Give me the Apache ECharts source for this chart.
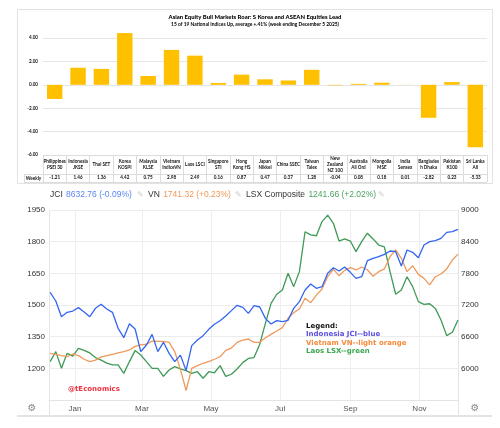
<!DOCTYPE html>
<html>
<head>
<meta charset="utf-8">
<script src="https://cdn.jsdelivr.net/npm/echarts@6/dist/echarts.min.js"></script>
<style>
  html, body { margin: 0; padding: 0; background: #fff; }
  #chart { width: 500px; height: 428px; }
</style>
</head>
<body>
<div id="chart"></div>
<script>
// top panel: weekly % change by national index
const indexNames = [
  "Philippines\nPSEi 30", "Indonesia\nJKSE", "Thai SET", "Korea\nKOSPI", "Malaysia\nKLSE",
  "Vietnam\nIndiceVN", "Laos LSCI", "Singapore\nSTI", "Hong\nKong HS", "Japan\nNikkei",
  "China SSEC", "Taiwan\nTaiex", "New\nZealand\nNZ 100", "Australia\nAll Ord", "Mongolia\nMSE",
  "India\nSensex", "Banglades\nh Dhaka", "Pakistan\nK100", "Sri Lanka\nAll"
];
const weeklyChange = [-1.21, 1.46, 1.36, 4.42, 0.75, 2.98, 2.49, 0.16, 0.87, 0.47,
  0.37, 1.28, -0.04, 0.08, 0.18, 0.01, -2.82, 0.23, -5.33];

// bottom panel: index levels, sampled every 5 days
const lineDates = [
  "2024-12-10", "2024-12-15", "2024-12-20", "2024-12-25", "2024-12-30",
  "2025-01-04", "2025-01-09", "2025-01-14", "2025-01-19", "2025-01-24", "2025-01-29",
  "2025-02-03", "2025-02-08", "2025-02-13", "2025-02-18", "2025-02-23", "2025-02-28",
  "2025-03-05", "2025-03-10", "2025-03-15", "2025-03-20", "2025-03-25", "2025-03-30",
  "2025-04-04", "2025-04-09", "2025-04-14", "2025-04-19", "2025-04-24", "2025-04-29",
  "2025-05-04", "2025-05-09", "2025-05-14", "2025-05-19", "2025-05-24", "2025-05-29",
  "2025-06-03", "2025-06-08", "2025-06-13", "2025-06-18", "2025-06-23", "2025-06-28",
  "2025-07-03", "2025-07-08", "2025-07-13", "2025-07-18", "2025-07-23", "2025-07-28",
  "2025-08-02", "2025-08-07", "2025-08-12", "2025-08-17", "2025-08-22", "2025-08-27",
  "2025-09-01", "2025-09-06", "2025-09-11", "2025-09-16", "2025-09-21", "2025-09-26",
  "2025-10-01", "2025-10-06", "2025-10-11", "2025-10-16", "2025-10-21", "2025-10-26", "2025-10-31",
  "2025-11-05", "2025-11-10", "2025-11-15", "2025-11-20", "2025-11-25", "2025-11-30",
  "2025-12-05"
];
const jciValues = [7440, 7276, 6979, 7061, 7086, 7150, 7067, 6979, 7137, 7213,
  7124, 7061, 6758, 6581, 6846, 6745, 6316, 6442, 6644, 6316,
  6493, 6284, 6126, 6250, 5960, 6430, 6537, 6619, 6739, 6834,
  6903, 6992, 7093, 7194, 7156, 7042, 7187, 7162, 6947, 6840,
  6903, 6884, 6910, 7137, 7263, 7484, 7598, 7516, 7547, 7800,
  7907, 7844, 7920, 7819, 7705, 7737, 8040, 8084, 8116, 8160,
  8223, 8210, 7939, 8242, 8198, 8097, 8337, 8400, 8419, 8463,
  8577, 8590, 8633];
const vnValues = [1271, 1266, 1260, 1255, 1268, 1260, 1243, 1232, 1239, 1254,
  1260, 1266, 1273, 1279, 1287, 1304, 1311, 1314, 1329, 1328,
  1328, 1323, 1279, 1195, 1095, 1200, 1213, 1224, 1232, 1243,
  1255, 1285, 1296, 1323, 1334, 1339, 1323, 1323, 1345, 1361,
  1377, 1393, 1437, 1464, 1481, 1532, 1511, 1547, 1576, 1634,
  1669, 1639, 1664, 1677, 1666, 1680, 1667, 1636, 1658, 1671,
  1729, 1761, 1721, 1658, 1686, 1645, 1626, 1595, 1634, 1647,
  1671, 1713, 1741];
const lsxValues = [1232, 1279, 1200, 1271, 1258, 1295, 1285, 1273, 1251, 1239,
  1225, 1216, 1216, 1176, 1232, 1284, 1263, 1232, 1200, 1200,
  1162, 1192, 1208, 1197, 1189, 1176, 1184, 1153, 1184, 1179,
  1213, 1162, 1172, 1197, 1227, 1247, 1251, 1314, 1413, 1508,
  1551, 1571, 1650, 1587, 1658, 1847, 1832, 1828, 1895, 1926,
  1887, 1803, 1813, 1803, 1753, 1800, 1840, 1813, 1784, 1775,
  1658, 1551, 1571, 1634, 1587, 1516, 1503, 1506, 1484, 1429,
  1355, 1371, 1429];
const monthTicks = ["2025-01-01", "2025-03-01", "2025-05-01", "2025-07-01", "2025-09-01", "2025-11-01"];
const monthNames = ["Jan", "Feb", "Mar", "Apr", "May", "Jun", "Jul", "Aug", "Sep", "Oct", "Nov", "Dec"];

const topFont = "Lato";
const lineFont = "Liberation Sans";
const gridGrey = "#dcdcdc";

const chart = echarts.init(document.getElementById("chart"));

// x positions are UTC timestamps on a plain value axis so month ticks can be pinned
const toPairs = (vals) => lineDates.map((d, i) => [Date.parse(d), vals[i]]);
const monthStamps = monthTicks.map(d => Date.parse(d));

const option = {
  animation: false,
  backgroundColor: "#fff",
  grid: [
    { left: 43, top: 38, width: 444, height: 117 },
    { left: 49, top: 210, width: 409, height: 190 }
  ],
  xAxis: [
    {
      gridIndex: 0,
      type: "category",
      data: indexNames,
      axisLine: { onZero: false, lineStyle: { color: gridGrey } },
      axisTick: { show: true, length: 27, interval: 0, lineStyle: { color: gridGrey } },
      axisLabel: {
        interval: 0, margin: 9.5, verticalAlign: "middle", lineHeight: 5.6,
        fontSize: 4.6, fontWeight: "bold", color: "#111", fontFamily: topFont
      }
    },
    {
      gridIndex: 0,
      type: "category",
      position: "bottom",
      data: weeklyChange.map(v => v.toFixed(2)),
      axisLine: { show: false },
      axisTick: { show: false },
      splitLine: { show: false },
      axisLabel: {
        interval: 0, margin: 22.5, verticalAlign: "middle",
        fontSize: 4.6, fontWeight: "bold", color: "#111", fontFamily: topFont
      }
    },
    {
      gridIndex: 1,
      type: "value",
      min: Date.parse("2024-12-09"),
      max: Date.parse("2025-12-05"),
      axisLine: { onZero: false, lineStyle: { color: "#e4e4e4" } },
      axisTick: { show: false, customValues: monthStamps },
      splitLine: { show: true, lineStyle: { color: "#eeeeee" } },
      axisLabel: {
        customValues: monthStamps,
        formatter: v => monthNames[new Date(v).getUTCMonth()],
        color: "#555", fontSize: 8, margin: 5, fontFamily: lineFont
      }
    }
  ],
  yAxis: [
    {
      gridIndex: 0,
      type: "value",
      min: -6, max: 4, interval: 2,
      axisLine: { show: false },
      axisTick: { show: false },
      splitLine: { lineStyle: { color: "#e6e6e6" } },
      axisLabel: {
        formatter: v => v.toFixed(2), margin: 5,
        fontSize: 4.6, fontWeight: "bold", color: "#111", fontFamily: topFont
      }
    },
    {
      gridIndex: 1,
      type: "value",
      min: 1050, max: 1950, interval: 150,
      axisLine: { show: false },
      axisTick: { show: false },
      splitLine: { lineStyle: { color: "#ececec" } },
      axisLabel: {
        formatter: v => (v === 1050 ? "" : String(v)), margin: 4,
        fontSize: 8, color: "#333", fontFamily: lineFont
      }
    },
    {
      gridIndex: 1,
      type: "value",
      position: "right",
      min: 5400, max: 9000, interval: 600,
      axisLine: { show: false },
      axisTick: { show: false },
      splitLine: { show: false },
      axisLabel: {
        formatter: v => (v === 5400 ? "" : String(v)), margin: 3,
        fontSize: 8, color: "#333", fontFamily: lineFont
      }
    }
  ],
  series: [
    {
      type: "bar",
      xAxisIndex: 0, yAxisIndex: 0,
      data: weeklyChange,
      barWidth: "66%",
      clip: false,
      itemStyle: { color: "#FFC000" }
    },
    {
      name: "LSX Composite",
      type: "line",
      xAxisIndex: 2, yAxisIndex: 1,
      data: toPairs(lsxValues),
      showSymbol: false,
      lineStyle: { color: "#3f9a55", width: 1.3 }
    },
    {
      name: "VN",
      type: "line",
      xAxisIndex: 2, yAxisIndex: 1,
      data: toPairs(vnValues),
      showSymbol: false,
      lineStyle: { color: "#ee9a5c", width: 1.3 }
    },
    {
      name: "JCI",
      type: "line",
      xAxisIndex: 2, yAxisIndex: 2,
      data: toPairs(jciValues),
      showSymbol: false,
      lineStyle: { color: "#3366f0", width: 1.3 }
    }
  ],
  graphic: [
    // top panel frame and titles
    { type: "rect", z: -1, shape: { x: 17.5, y: 9.5, width: 475, height: 174 },
      style: { fill: "none", stroke: "#e2e2e2" } },
    { type: "text", z: 100, x: 255, y: 17, style: {
      text: "Asian Equity Bull Markets Roar: S Korea and ASEAN Equities Lead",
      align: "center", verticalAlign: "middle", font: "900 5.9px " + topFont, fill: "#000" } },
    { type: "text", z: 100, x: 255, y: 24, style: {
      text: "15 of 19 National Indices Up, average +.41% (week ending December 5 2025)",
      align: "center", verticalAlign: "middle", font: "bold 4.9px " + topFont, fill: "#000" } },
    // table rows under the bars
    { type: "line", shape: { x1: 24, y1: 174.5, x2: 487, y2: 174.5 }, style: { stroke: gridGrey } },
    { type: "line", shape: { x1: 24, y1: 182.5, x2: 487, y2: 182.5 }, style: { stroke: gridGrey } },
    { type: "line", shape: { x1: 24.5, y1: 174, x2: 24.5, y2: 183 }, style: { stroke: gridGrey } },
    { type: "text", x: 33.5, y: 178.5, style: {
      text: "Weekly", align: "center", verticalAlign: "middle", font: "bold 4.6px " + topFont, fill: "#111" } },

    // bottom panel header readouts
    { type: "text", x: 50, y: 195, style: {
      text: "{k|JCI} {b|8632.76 (-0.09%)}", verticalAlign: "middle",
      rich: { k: { fill: "#333", font: "8.5px " + lineFont }, b: { fill: "#5b86f7", font: "8.5px " + lineFont } } } },
    { type: "text", x: 137, y: 195, style: { text: "\u270E", verticalAlign: "middle", font: "8px DejaVu Sans", fill: "#cfcfcf" } },
    { type: "text", x: 148, y: 195, style: {
      text: "{k|VN} {b|1741.32 (+0.23%)}", verticalAlign: "middle",
      rich: { k: { fill: "#333", font: "8.5px " + lineFont }, b: { fill: "#ee9a5c", font: "8.5px " + lineFont } } } },
    { type: "text", x: 235, y: 195, style: { text: "\u270E", verticalAlign: "middle", font: "8px DejaVu Sans", fill: "#cfcfcf" } },
    { type: "text", x: 246, y: 195, style: {
      text: "{k|LSX Composite} {b|1241.66 (+2.02%)}", verticalAlign: "middle",
      rich: { k: { fill: "#333", font: "8.5px " + lineFont }, b: { fill: "#4ba264", font: "8.5px " + lineFont } } } },
    { type: "text", x: 378, y: 195, style: { text: "\u270E", verticalAlign: "middle", font: "8px DejaVu Sans", fill: "#cfcfcf" } },

    // bottom panel frame pieces
    { type: "line", shape: { x1: 49.5, y1: 210, x2: 49.5, y2: 416 }, style: { stroke: "#e4e4e4" } },
    { type: "line", shape: { x1: 458.5, y1: 210, x2: 458.5, y2: 416 }, style: { stroke: "#e4e4e4" } },
    { type: "line", shape: { x1: 17, y1: 416, x2: 492, y2: 416 }, style: { stroke: "#e4e4e4", lineWidth: 2 } },
    { type: "text", x: 32, y: 408, style: { text: "\u2699", align: "center", verticalAlign: "middle", font: "10px DejaVu Sans", fill: "#8a8a8a" } },
    { type: "text", x: 475, y: 408, style: { text: "\u2699", align: "center", verticalAlign: "middle", font: "10px DejaVu Sans", fill: "#8a8a8a" } },

    // annotations, drawn above the lines
    { type: "text", z: 100, x: 68, y: 389, style: { text: "@tEconomics", verticalAlign: "middle", font: "bold 7px DejaVu Sans", fill: "#f0303f" } },
    { type: "text", z: 100, x: 306, y: 326, style: { text: "Legend:", verticalAlign: "middle", font: "bold 7px DejaVu Sans", fill: "#111" } },
    { type: "text", z: 100, x: 306, y: 334.5, style: { text: "Indonesia JCI--blue", verticalAlign: "middle", font: "bold 7px DejaVu Sans", fill: "#5a4fe0" } },
    { type: "text", z: 100, x: 306, y: 343, style: { text: "Vietnam VN--light orange", verticalAlign: "middle", font: "bold 7px DejaVu Sans", fill: "#f58a3a" } },
    { type: "text", z: 100, x: 306, y: 351.5, style: { text: "Laos LSX--green", verticalAlign: "middle", font: "bold 7px DejaVu Sans", fill: "#3aa64f" } }
  ]
};

chart.setOption(option);
</script>
</body>
</html>
